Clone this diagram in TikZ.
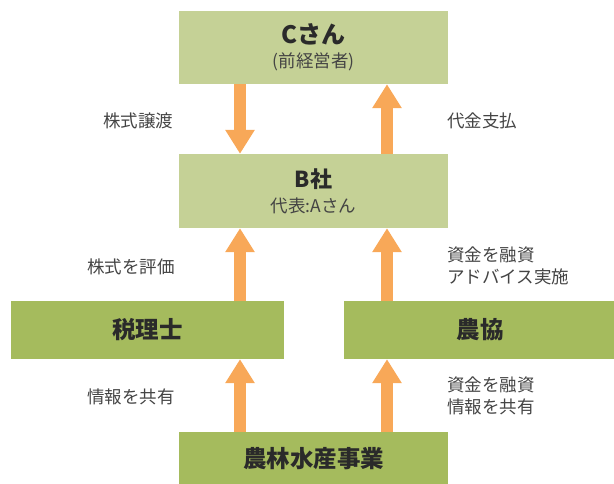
\documentclass[tikz,border=0pt]{standalone}
\usepackage{fontspec}
\setmainfont{Noto Sans CJK JP}
\usetikzlibrary{arrows.meta}
\definecolor{lgreen}{HTML}{C5D196}
\definecolor{dgreen}{HTML}{A5BB5D}
\definecolor{orng}{HTML}{F8A858}
\definecolor{txt}{HTML}{2A2A2A}
\definecolor{lbl}{HTML}{444444}
\tikzset{
  lbox/.style={fill=lgreen, draw=none, inner sep=0pt, text=txt, align=center},
  dbox/.style={fill=dgreen, draw=none, inner sep=0pt, text=txt, align=center,
    font=\fontsize{23.5}{27}\selectfont\bfseries},
  arr/.style={draw=orng, line width=12pt,
    -{Triangle[width=28pt,length=24pt,fill=orng]}},
  lab/.style={anchor=west, inner sep=0pt, text=lbl, align=left,
    font=\fontsize{17.5}{22.5}\selectfont},
}
\begin{document}
\begin{tikzpicture}[x=1pt,y=-1pt]
\useasboundingbox (0,0) rectangle (614,484);
% boxes
\node[lbox, minimum width=269pt, minimum height=73pt] (C) at (313.5,47.5)
  {{\fontsize{24}{27}\selectfont\bfseries Cさん}\\[7pt]{\fontsize{17.5}{20}\selectfont\color{lbl}(前経営者)}};
\node[lbox, minimum width=269pt, minimum height=74pt] (B) at (313.5,191)
  {{\fontsize{22}{25}\selectfont\bfseries B社}\\[7pt]{\fontsize{17.5}{20}\selectfont\color{lbl}代表:Aさん}};
\node[dbox, minimum width=273pt, minimum height=58pt] (T) at (147.5,330) {税理士};
\node[dbox, minimum width=272pt, minimum height=58pt] (N) at (480,330) {農協};
\node[dbox, minimum width=269pt, minimum height=54pt] (F) at (313.5,459) {農林水産事業};
% arrow columns
\coordinate (xl) at (240,0);
\coordinate (xr) at (387,0);
% arrows
\draw[arr] (C.south -| xl) -- (B.north -| xl);
\draw[arr] (B.north -| xr) -- (C.south -| xr);
\draw[arr] (T.north -| xl) -- (B.south -| xl);
\draw[arr] (N.north -| xr) -- (B.south -| xr);
\draw[arr] (F.north -| xl) -- (T.south -| xl);
\draw[arr] (F.north -| xr) -- (N.south -| xr);
% labels
\node[lab] (l1) at (103,121) {株式譲渡};
\node[lab] (l2) at (447,121) {代金支払};
\node[lab] (l3) at (87,267) {株式を評価};
\node[lab] (l4) at (447,266) {資金を融資\\アドバイス実施};
\node[lab] (l5) at (87,397) {情報を共有};
\node[lab] (l6) at (447,396) {資金を融資\\情報を共有};
\end{tikzpicture}
\end{document}
